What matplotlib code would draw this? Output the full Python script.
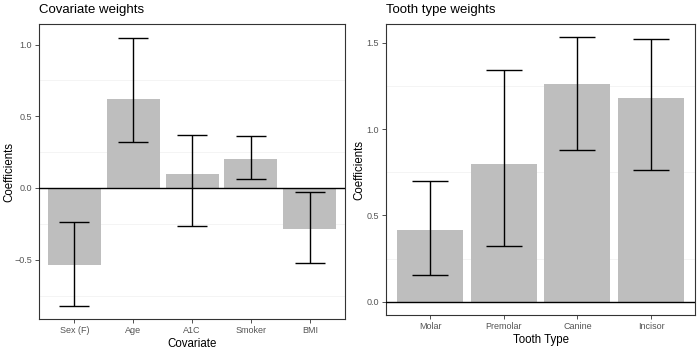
import numpy as np
import matplotlib.pyplot as plt
from matplotlib.ticker import MultipleLocator

plt.rcParams['font.family'] = ['Liberation Sans', 'DejaVu Sans']

# Covariate panel
covariates = ["Sex (F)", "Age", "A1C", "Smoker", "BMI"]
cov_coef = [-0.535, 0.618, 0.097, 0.20, -0.285]
cov_lo = [-0.82, 0.32, -0.264, 0.063, -0.52]
cov_hi = [-0.236, 1.049, 0.368, 0.361, -0.028]

# Tooth type panel
teeth = ["Molar", "Premolar", "Canine", "Incisor"]
tooth_coef = [0.416, 0.80, 1.26, 1.179]
tooth_lo = [0.156, 0.325, 0.877, 0.765]
tooth_hi = [0.70, 1.341, 1.532, 1.524]

bar_col = "#bebebe"
grey20 = "#333333"
grey30 = "#555555"


def panel(ax, labels, coef, lo, hi, title, xlabel, minor_ticks, cap, ylab_x):
    x = np.arange(1, len(labels) + 1)
    ax.bar(x, coef, width=0.9, color=bar_col, zorder=2)
    ax.axhline(0, color="black", lw=1.0, zorder=3)
    coef = np.array(coef)
    yerr = [coef - np.array(lo), np.array(hi) - coef]
    ax.errorbar(x, coef, yerr=yerr, fmt="none", ecolor="black", elinewidth=1.0,
                capsize=cap, capthick=1.0, zorder=4)
    ax.set_xlim(0.4, len(labels) + 0.6)
    lo_all = min(min(lo), 0)
    hi_all = max(max(hi), 0)
    pad = (hi_all - lo_all) * 0.05
    ax.set_ylim(lo_all - pad, hi_all + pad)
    ax.set_xticks(x)
    ax.set_xticklabels(labels)
    ax.yaxis.set_major_locator(MultipleLocator(0.5))
    ax.set_yticks(minor_ticks, minor=True)
    ax.grid(False)
    ax.grid(axis="y", which="minor", color="#f2f2f2", lw=0.6, zorder=0)
    ax.tick_params(which="minor", length=0)
    ax.tick_params(which="major", length=3, width=0.6, color=grey20,
                   labelsize=6.5, labelcolor=grey30, pad=2)
    for s in ax.spines.values():
        s.set_color(grey20)
        s.set_linewidth(0.8)
    ax.set_title(title, loc="left", fontsize=9.5, pad=8)
    ax.set_xlabel(xlabel, fontsize=8.3, labelpad=2)
    ax.set_ylabel("Coefficients", fontsize=8.3)
    ax.yaxis.set_label_coords(ylab_x, 0.5)


fig = plt.figure(figsize=(7, 3.5), dpi=100)
ax1 = fig.add_axes([0.0557, 0.0886, 0.4373, 0.8424])
ax2 = fig.add_axes([0.5514, 0.1, 0.4416, 0.831])

panel(ax1, covariates, cov_coef, cov_lo, cov_hi, "Covariate weights", "Covariate",
      [-0.75, -0.25, 0.25, 0.75], 10.6, -0.078)
panel(ax2, teeth, tooth_coef, tooth_lo, tooth_hi, "Tooth type weights", "Tooth Type",
      [0.25, 0.75, 1.25], 13.3, -0.068)

fig.savefig("out.png", dpi=100)
